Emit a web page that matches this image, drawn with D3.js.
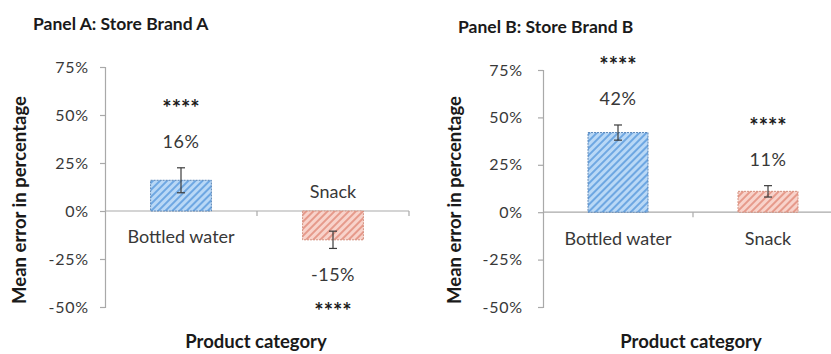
<!DOCTYPE html>
<html>
<head>
<meta charset="utf-8">
<script src="https://cdn.jsdelivr.net/npm/d3@7"></script>
<style>
  html, body { margin: 0; padding: 0; background: #fff; }
  svg { display: block; font-family: Lato, "Open Sans", sans-serif; }
</style>
</head>
<body>
<svg id="chart" width="831" height="354"></svg>
<script>
// Product categories shared by both panels
const categories = ["Bottled water", "Snack"];

// Mean error (%) per category, per store brand
const brandAValues = [16, -15];
const brandBValues = [42, 11];

// Half-width of the error bars (%)
const brandAErrors = [6.5, 4.5];
const brandBErrors = [4, 3];

// Significance markers
const brandAStars = ["****", "****"];
const brandBStars = ["****", "****"];

// Y-axis ticks (%)
const yTicks = [75, 50, 25, 0, -25, -50];

const panelTitles = ["Panel A: Store Brand A", "Panel B: Store Brand B"];
const yAxisTitle = "Mean error in percentage";
const xAxisTitle = "Product category";

const svg = d3.select("#chart");
const defs = svg.append("defs");

// Diagonal hatch fills for the two categories
const hatchColors = [
  { id: "hatch-blue", bg: "#b9d8f6", line: "#6ea7e2", stroke: "#5a86b8" },
  { id: "hatch-red",  bg: "#f8d3cb", line: "#e69a8b", stroke: "#d4907f" }
];
hatchColors.forEach(h => {
  const p = defs.append("pattern")
    .attr("id", h.id)
    .attr("patternUnits", "userSpaceOnUse")
    .attr("width", 5).attr("height", 5)
    .attr("patternTransform", "rotate(45)");
  p.append("rect").attr("width", 5).attr("height", 5).attr("fill", h.bg);
  p.append("rect").attr("width", 2).attr("height", 5).attr("fill", h.line);
});

const panels = [
  {
    values: brandAValues, errors: brandAErrors, stars: brandAStars,
    title: panelTitles[0], titleX: 33, titleY: 24,
    xRange: [105, 409], yRange: [307, 67], tickPad: 11,
    yTitleX: 20, xTitleX: 256
  },
  {
    values: brandBValues, errors: brandBErrors, stars: brandBStars,
    title: panelTitles[1], titleX: 458, titleY: 27,
    xRange: [543, 843], yRange: [307, 70], tickPad: 15,
    yTitleX: 455, xTitleX: 691
  }
];

const axisColor = "#a9a9a9";
const textColor = "#383838";

panels.forEach(pn => {
  const g = svg.append("g");

  const y = d3.scaleLinear().domain([-50, 75]).range(pn.yRange);
  const x = d3.scaleBand().domain(categories).range(pn.xRange).paddingInner(0).paddingOuter(0);
  const barW = x.bandwidth() * 0.4;
  const zeroY = y(0);

  // Panel title
  g.append("text")
    .attr("x", pn.titleX).attr("y", pn.titleY)
    .attr("dy", "0.35em")
    .attr("font-size", 17.5).attr("font-weight", 700)
    .attr("fill", "#1a1a1a")
    .text(pn.title);

  // Y axis
  const yAxis = d3.axisLeft(y)
    .tickValues(yTicks)
    .tickFormat(d => d + "%")
    .tickSize(5)
    .tickPadding(pn.tickPad);
  const ya = g.append("g")
    .attr("transform", `translate(${pn.xRange[0]},0)`)
    .call(yAxis);
  ya.select(".domain").attr("stroke", axisColor).attr("stroke-width", 1.2);
  ya.selectAll(".tick line").attr("stroke", axisColor).attr("stroke-width", 1.2);
  ya.selectAll(".tick text")
    .attr("font-size", 16).attr("fill", textColor)
    .attr("letter-spacing", "0.8px")
    .attr("font-family", "Lato, sans-serif");

  // Category axis along zero
  g.append("line")
    .attr("x1", pn.xRange[0]).attr("x2", pn.xRange[1])
    .attr("y1", zeroY).attr("y2", zeroY)
    .attr("stroke", axisColor).attr("stroke-width", 1.2);
  // Category boundary ticks
  const boundaries = categories.slice(1).map(c => x(c));
  boundaries.push(pn.xRange[1]);
  g.selectAll(".cat-tick").data(boundaries).enter().append("line")
    .attr("x1", d => d).attr("x2", d => d)
    .attr("y1", zeroY).attr("y2", zeroY + 5)
    .attr("stroke", axisColor).attr("stroke-width", 1.2);

  const rows = categories.map((c, i) => ({
    cat: c, v: pn.values[i], e: pn.errors[i], s: pn.stars[i], i
  }));

  // Bars
  g.selectAll(".bar").data(rows).enter().append("rect")
    .attr("x", d => x(d.cat) + (x.bandwidth() - barW) / 2)
    .attr("width", barW)
    .attr("y", d => y(Math.max(0, d.v)))
    .attr("height", d => Math.abs(y(d.v) - y(0)))
    .attr("fill", d => `url(#${hatchColors[d.i].id})`)
    .attr("stroke", d => hatchColors[d.i].stroke)
    .attr("stroke-width", 1)
    .attr("stroke-dasharray", "2,1");

  // Error bars
  const cx = d => x(d.cat) + x.bandwidth() / 2;
  const eb = g.selectAll(".err").data(rows).enter().append("g")
    .attr("stroke", "#3c3c3c").attr("stroke-width", 1.2);
  eb.append("line")
    .attr("x1", cx).attr("x2", cx)
    .attr("y1", d => y(d.v + d.e)).attr("y2", d => y(d.v - d.e));
  eb.append("line")
    .attr("x1", d => cx(d) - 4).attr("x2", d => cx(d) + 4)
    .attr("y1", d => y(d.v + d.e)).attr("y2", d => y(d.v + d.e));
  eb.append("line")
    .attr("x1", d => cx(d) - 4).attr("x2", d => cx(d) + 4)
    .attr("y1", d => y(d.v - d.e)).attr("y2", d => y(d.v - d.e));

  // Value labels and significance stars beyond the error bar
  const outer = d => d.v >= 0 ? y(d.v + d.e) : y(d.v - d.e);
  const dir = d => d.v >= 0 ? -1 : 1;
  g.selectAll(".val").data(rows).enter().append("text")
    .attr("x", cx)
    .attr("y", d => outer(d) + dir(d) * 26)
    .attr("dy", "0.35em")
    .attr("text-anchor", "middle")
    .attr("font-size", 18).attr("fill", textColor)
    .attr("letter-spacing", "0.5px")
    .text(d => `${d.v}%`);
  g.selectAll(".star").data(rows).enter().append("text")
    .attr("x", cx)
    .attr("y", d => outer(d) + dir(d) * (d.v >= 0 ? 64 : 58))
    .attr("dy", "0.55em")
    .attr("text-anchor", "middle")
    .attr("font-size", 22).attr("font-weight", 700).attr("fill", "#1a1a1a")
    .text(d => d.s);

  // Category labels on the side of the axis opposite to the bar
  g.selectAll(".cat").data(rows).enter().append("text")
    .attr("x", cx)
    .attr("y", d => d.v >= 0 ? zeroY + 26 : zeroY - 19)
    .attr("dy", "0.35em")
    .attr("text-anchor", "middle")
    .attr("font-size", 18).attr("fill", textColor)
    .text(d => d.cat);

  // Axis titles
  g.append("text")
    .attr("transform", `translate(${pn.yTitleX},200) rotate(-90)`)
    .attr("dy", "0.35em")
    .attr("text-anchor", "middle")
    .attr("font-size", 18.5).attr("font-weight", 700).attr("fill", "#1a1a1a")
    .text(yAxisTitle);
  g.append("text")
    .attr("x", pn.xTitleX).attr("y", 342)
    .attr("dy", "0.35em")
    .attr("text-anchor", "middle")
    .attr("font-size", 18.5).attr("font-weight", 700).attr("fill", "#1a1a1a")
    .text(xAxisTitle);
});
</script>
</body>
</html>
